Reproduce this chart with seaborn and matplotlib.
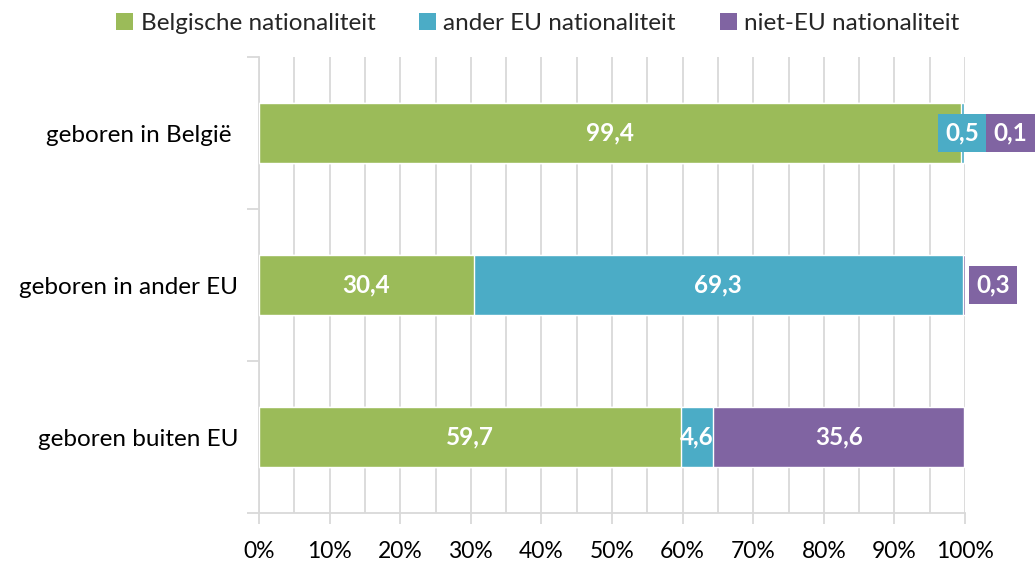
import numpy as np
import pandas as pd
import matplotlib.pyplot as plt
import seaborn as sns
from matplotlib.patches import Patch
from matplotlib.ticker import MultipleLocator, FuncFormatter

sns.set_theme(style="white")
plt.rcParams['font.family'] = ['Lato', 'DejaVu Sans']

groups = ["geboren in België ", "geboren in ander EU", "geboren buiten EU"]
series = ["Belgische nationaliteit", "ander EU nationaliteit", "niet-EU nationaliteit"]
belg = [99.4, 30.4, 59.7]
ander_eu = [0.5, 69.3, 4.6]
niet_eu = [0.1, 0.3, 35.6]
colors = ["#9BBB59", "#4BACC6", "#8064A2"]

df = pd.DataFrame({"groep": groups, series[0]: belg, series[1]: ander_eu, series[2]: niet_eu})
vals = df[series].to_numpy()
cum = vals.cumsum(axis=1)

fig = plt.figure(figsize=(10.36, 5.68), dpi=100)
ax = fig.add_axes([0.25, 0.0968, 0.6815, 0.8028])

# stacked bars: draw cumulative totals back to front
for i in [2, 1, 0]:
    sns.barplot(x=cum[:, i], y=df["groep"], orient="h", color=colors[i],
                width=0.4, saturation=1, ax=ax, zorder=3)

ax.set_xlim(0, 100)
ax.set_ylim(2.5, -0.5)
ax.set_xlabel("")
ax.set_ylabel("")

# data labels
fs_lab = 17.5
fs_tick = 16.5
for r in range(len(groups)):
    starts = cum[r] - vals[r]
    for i in range(3):
        v = vals[r, i]
        txt = f"{v:.1f}".replace(".", ",")
        xc = starts[i] + v / 2
        if v >= 2:
            ax.text(xc, r, txt, ha="center", va="center", color="white",
                    fontsize=fs_lab, fontweight="bold", zorder=5)
        else:
            # small segments: boxed label next to the bar end
            if r == 0 and i == 1:
                off = 0
            elif r == 0 and i == 2:
                off = 33
            else:
                off = 21
            ax.annotate(txt, xy=(xc, r), xytext=(off, 0), textcoords="offset points",
                        ha="center", va="center", color="white", fontsize=fs_lab,
                        fontweight="bold", zorder=6,
                        bbox=dict(boxstyle="square,pad=0.3", fc=colors[i], ec="none"))

# grid and axes styling
ax.xaxis.set_major_locator(MultipleLocator(10))
ax.xaxis.set_minor_locator(MultipleLocator(5))
ax.xaxis.set_major_formatter(FuncFormatter(lambda x, p: f"{x:.0f}%"))
ax.grid(axis="x", which="both", color="#D9D9D9", linewidth=1.3, zorder=0)
ax.set_axisbelow(True)

for s in ["top", "right"]:
    ax.spines[s].set_visible(False)
ax.spines["left"].set_color("#D9D9D9")
ax.spines["left"].set_linewidth(1.3)
ax.spines["bottom"].set_color("#D9D9D9")
ax.spines["bottom"].set_linewidth(1.3)

ax.tick_params(axis="x", which="major", bottom=True, length=8, width=1.3,
               color="#D9D9D9", pad=12, labelsize=fs_tick, labelcolor="black")
ax.tick_params(axis="x", which="minor", bottom=False)
ax.set_yticks([0, 1, 2])
ax.set_yticklabels(groups)
ax.tick_params(axis="y", which="major", left=False, pad=9, labelsize=fs_lab, labelcolor="black")
ax.yaxis.set_minor_locator(plt.FixedLocator([-0.5, 0.5, 1.5, 2.5]))
ax.tick_params(axis="y", which="minor", left=True, length=9, width=1.3, color="#D9D9D9")

handles = [Patch(facecolor=c, edgecolor="none", label=s) for c, s in zip(colors, series)]
fig.legend(handles=handles, loc="upper center", bbox_to_anchor=(0.519, 1.015), ncol=3,
           frameon=False, fontsize=fs_lab, handlelength=0.7, handleheight=0.7,
           handletextpad=0.3, columnspacing=1.8)

fig.savefig("out.png", dpi=100)
